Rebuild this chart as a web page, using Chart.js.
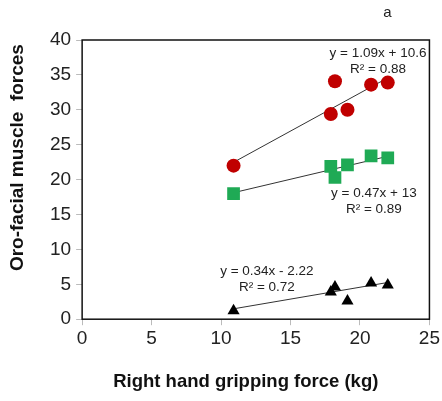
<!DOCTYPE html>
<html>
<head>
<meta charset="utf-8">
<script src="https://cdn.jsdelivr.net/npm/chart.js@4"></script>
<style>
  body { margin: 0; background: #fff; }
  #wrap { width: 442px; height: 401px; }
</style>
</head>
<body>
<div id="wrap"><canvas id="chart"></canvas></div>
<script>
const gripX = [10.9, 17.9, 18.2, 19.1, 20.8, 22.0]
const redY = [22.0, 29.4, 34.1, 30.0, 33.6, 33.9]
const greenY = [18.0, 21.9, 20.3, 22.1, 23.4, 23.1]
const blackY = [1.2, 3.9, 4.6, 2.6, 5.2, 4.9]

// trendline slope / intercept, as printed on the figure
const redFit = [1.09, 10.6]
const greenFit = [0.47, 13]
const blackFit = [0.34, -2.22]

const redLabel = ['y = 1.09x + 10.6', 'R² = 0.88']
const greenLabel = ['y = 0.47x + 13', 'R² = 0.89']
const blackLabel = ['y = 0.34x - 2.22', 'R² = 0.72']

const xTitle = 'Right hand gripping force (kg)'
const yTitle = 'Oro-facial muscle  forces'

const xTicks = [0, 5, 10, 15, 20, 25]
const yTicks = [0, 5, 10, 15, 20, 25, 30, 35, 40]

const redColor = '#c00000'
const greenColor = '#1faa55'
const blackColor = '#000000'
const fontName = '"Liberation Sans", Arial, sans-serif'

function points(ys) {
    return gripX.map((x, i) => ({ x: x, y: ys[i] }));
}

function trend(fit) {
    const lo = Math.min(...gripX), hi = Math.max(...gripX);
    return [{ x: lo, y: fit[0] * lo + fit[1] }, { x: hi, y: fit[0] * hi + fit[1] }];
}

function lineSet(fit) {
    return {
        type: 'line',
        data: trend(fit),
        borderColor: '#333',
        borderWidth: 1,
        pointRadius: 0,
        fill: false,
        order: 2
    };
}

function markSet(ys, color, style, r) {
    return {
        type: 'scatter',
        data: points(ys),
        backgroundColor: color,
        borderColor: color,
        borderWidth: 0,
        pointStyle: style,
        pointRadius: r,
        pointHoverRadius: r,
        order: 1
    };
}

// equation labels, anchored in data units
const notes = [
    { text: redLabel, x: 21.3, y: 38.1 },
    { text: greenLabel, x: 21.0, y: 18.0 },
    { text: blackLabel, x: 13.3, y: 6.8 }
];

const extras = {
    id: 'extras',
    afterDraw(chart) {
        const ctx = chart.ctx, a = chart.chartArea;
        const xs = chart.scales.x, ys = chart.scales.y;
        ctx.save();
        ctx.strokeStyle = '#111';
        ctx.lineWidth = 1.5;
        ctx.strokeRect(a.left, a.top, a.right - a.left, a.bottom - a.top);
        ctx.fillStyle = '#222';
        ctx.font = '13.5px ' + fontName;
        ctx.textAlign = 'center';
        ctx.textBaseline = 'middle';
        notes.forEach(n => {
            const px = xs.getPixelForValue(n.x), py = ys.getPixelForValue(n.y);
            ctx.fillText(n.text[0], px, py);
            ctx.fillText(n.text[1], px, py + 16);
        });
        ctx.font = '15px ' + fontName;
        ctx.fillText('a', a.right - 42, a.top - 27);

        // axis titles (the original sits off-centre from the plot)
        ctx.fillStyle = '#111';
        ctx.font = 'bold 18.5px ' + fontName;
        ctx.fillText(xTitle, (a.left + a.right) / 2 - 10, a.bottom + 63);
        ctx.translate(a.left - 64, (a.top + a.bottom) / 2 - 22);
        ctx.rotate(-Math.PI / 2);
        ctx.font = 'bold 19px ' + fontName;
        ctx.fillText(yTitle, 0, 0);
        ctx.restore();
    }
};

const ch = new Chart(document.getElementById('chart'), {
    data: {
        datasets: [
            lineSet(redFit), lineSet(greenFit), lineSet(blackFit),
            markSet(redY, redColor, 'circle', 7),
            markSet(greenY, greenColor, 'rect', 9),
            markSet(blackY, blackColor, 'triangle', 7)
        ]
    },
    options: {
        responsive: true,
        maintainAspectRatio: false,
        animation: false,
        layout: { padding: { top: 40, right: 1, left: 45, bottom: 49 } },
        plugins: { legend: { display: false }, tooltip: { enabled: false } },
        scales: {
            x: {
                type: 'linear',
                min: 0, max: 25,
                afterBuildTicks: s => { s.ticks = xTicks.map(v => ({ value: v })); },
                grid: { drawOnChartArea: false, tickLength: 6, color: '#bbb' },
                border: { display: false },
                ticks: { color: '#222', font: { family: fontName, size: 19 }, padding: 2 }
            },
            y: {
                type: 'linear',
                min: 0, max: 40,
                afterBuildTicks: s => { s.ticks = yTicks.map(v => ({ value: v })); },
                grid: { drawOnChartArea: false, tickLength: 6, color: '#bbb' },
                border: { display: false },
                ticks: { color: '#222', font: { family: fontName, size: 19 }, padding: 5 }
            }
        }
    },
    plugins: [extras]
});
</script>
</body>
</html>
